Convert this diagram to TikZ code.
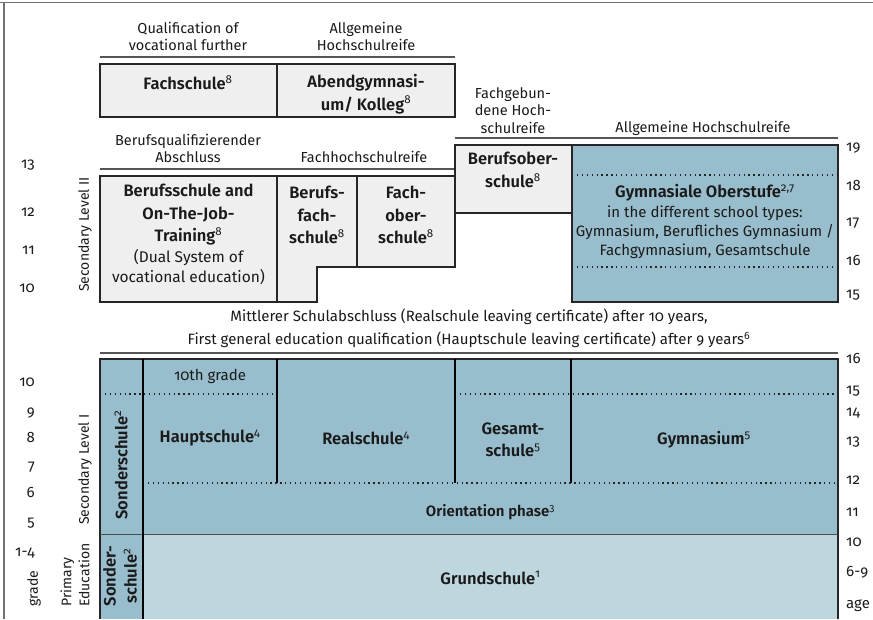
\documentclass[tikz,border=0pt]{standalone}
\usepackage{fontspec}
\setmainfont{Fira Sans}[Numbers=OldStyle, BoldFont={Fira Sans SemiBold}]
\definecolor{bluedark}{HTML}{98BDCC}
\definecolor{bluelight}{HTML}{BED6DE}
\definecolor{graybox}{HTML}{EFEFEF}
\definecolor{rulegray}{HTML}{555555}
\definecolor{txt}{HTML}{1A1A1A}
\newcommand\fnote[1]{\textsuperscript{\mdseries #1}}
\begin{document}
\begin{tikzpicture}[x=1pt,y=-1pt,
  every node/.style={inner sep=0pt, text=txt},
  lbl/.style={align=center, font=\fontsize{14.5}{17.5}\selectfont},
  lbox/.style={align=center, font=\fontsize{15}{19}\selectfont},
  bl/.style={align=center, font=\fontsize{16.5}{22.5}\selectfont\bfseries},
  bls/.style={align=center, font=\fontsize{15}{16}\selectfont\bfseries},
  num/.style={font=\fontsize{15}{16}\selectfont},
  side/.style={rotate=90, anchor=west, align=left, font=\fontsize{14}{18}\selectfont},
  frame/.style={draw=black!55, line width=1.6pt},
  rulel/.style={draw=rulegray, line width=1.3pt},
  boxl/.style={draw=black!85, line width=1.3pt},
  sep/.style={draw=black, line width=1.8pt},
  dots/.style={draw=black!85, line width=1.3pt, dash pattern=on 1.3pt off 3.6pt},
]
\useasboundingbox (0,0) rectangle (873,619);
% frame
\draw[frame] (0,2.5) -- (873,2.5);
\draw[frame] (4,2.5) -- (4,619);

% ---------- upper section ----------
\draw[rulel] (100,57) -- (455,57);
\filldraw[fill=graybox, boxl] (100,64) rectangle (277,117);
\filldraw[fill=graybox, boxl] (277,64) rectangle (455,117);

\draw[rulel] (100,169) -- (455,169);
\draw[rulel] (455,138) -- (838,138);

\filldraw[fill=graybox, boxl] (100,176) rectangle (277,302);
\filldraw[fill=graybox, boxl] (277,176) -- (357,176) -- (357,267) -- (317,267) -- (317,302) -- (277,302) -- cycle;
\filldraw[fill=graybox, boxl] (357,176) rectangle (455,267);
\filldraw[fill=graybox, boxl] (455,145) rectangle (572,213);
\filldraw[fill=bluedark, boxl] (572,145) rectangle (838,302);
\draw[dots] (572,175) -- (838,175);
\draw[dots] (572,267) -- (838,267);

\node[lbl] (qual) at (188,36.5) {Qualification of\\vocational further};
\node[lbl] (ahr1) at (366,36.5) {Allgemeine\\Hochschulreife};
\node[bl] (fachs) at (188,83) {Fachschule\fnote{8}};
\node[bl] (abend) at (366,94) {Abendgymnasi-\\um/ Kolleg\fnote{8}};
\node[lbl] (bqa) at (188,148.5) {Berufsqualifizierender\\Abschluss};
\node[lbl] (fhr) at (364,157) {Fachhochschulreife};
\node[lbl] (fgh) at (513,110.5) {Fachgebun-\\dene Hoch-\\schulreife};
\node[lbl] (ahr2) at (703,128) {Allgemeine Hochschulreife};
\node[bl] (bos) at (513,170) {Berufsober-\\schule\fnote{8}};
\node[bl] (gymo) at (705,193) {Gymnasiale Oberstufe\fnote{2,7}};
\node[lbox] (gymsub) at (705,232) {in the different school types:\\Gymnasium, Berufliches Gymnasium /\\Fachgymnasium, Gesamtschule};
\node[bl] (bs) at (188.5,215) {Berufsschule and\\On-The-Job-\\Training\fnote{8}};
\node[lbox, font=\fontsize{15.5}{20}\selectfont] (dual) at (188.5,267.5) {(Dual System of\\vocational education)};
\node[bl] (bfs) at (317,215) {Berufs-\\fach-\\schule\fnote{8}};
\node[bl] (fos) at (406,215) {Fach-\\ober-\\schule\fnote{8}};

% ---------- middle ----------
\node[lbl, font=\fontsize{15}{22.5}\selectfont] (msa) at (469,328.5) {Mittlerer Schulabschluss (Realschule leaving certificate) after 10 years,\\First general education qualification (Hauptschule leaving certificate) after 9 years\fnote{6}};
\draw[rulel] (100,353) -- (838,353);

% ---------- lower section ----------
\fill[bluedark] (100,359) rectangle (838,534);
\fill[bluelight] (143,534) rectangle (838,619);
\fill[bluedark] (100,534) rectangle (143,619);
\draw[boxl] (100,619) -- (100,359) -- (838,359) -- (838,619);
\draw[draw=black!70, line width=1pt] (100,534) -- (838,534);
\draw[dots] (100,394) -- (277,394);
\draw[dots] (455,394) -- (838,394);
\draw[dots] (143,483) -- (838,483);
\draw[sep] (143,359) -- (143,619);
\draw[sep] (277,359) -- (277,483);
\draw[sep] (455,359) -- (455,483);
\draw[sep] (571,359) -- (571,483);

\node[lbox] (tenth) at (210,376) {10th grade};
\node[bl] (haupt) at (210,438) {Hauptschule\fnote{4}};
\node[bl] (real) at (366,438) {Realschule\fnote{4}};
\node[bl] (gesamt) at (513,440) {Gesamt-\\schule\fnote{5}};
\node[bl] (gym) at (704,440) {Gymnasium\fnote{5}};
\node[bls] (orient) at (490.5,512) {Orientation phase\fnote{3}};
\node[bl] (grund) at (490.5,578) {Grundschule\fnote{1}};
\node[bl, rotate=90] (sonder1) at (121,465) {Sonderschule\fnote{2}};
\node[bl, rotate=90, font=\fontsize{16.5}{21}\selectfont\bfseries] (sonder2) at (120,576) {Sonder-\\schule\fnote{2}};

% ---------- side labels ----------
\node[side] (sec2) at (85,292) {Secondary Level II};
\node[side] (sec1) at (85,525) {Secondary Level I};
\node[side] (prim) at (75,607) {Primary\\Education};
\node[side] (gradel) at (34,607) {grade};

% grades
\node[num, anchor=east] (g13) at (35,165) {13};
\node[num, anchor=east] (g12) at (35,212) {12};
\node[num, anchor=east] (g11) at (35,250) {11};
\node[num, anchor=east] (g10a) at (35,288) {10};
\node[num, anchor=east] (g10b) at (35,382) {10};
\node[num, anchor=east] (g9) at (35,413) {9};
\node[num, anchor=east] (g8) at (35,437) {8};
\node[num, anchor=east] (g7) at (35,467) {7};
\node[num, anchor=east] (g6) at (35,492) {6};
\node[num, anchor=east] (g5) at (35,523) {5};
\node[num, anchor=east] (g14) at (35,553) {1-4};

% ages
\node[num, anchor=west] (a19) at (846,148) {19};
\node[num, anchor=west] (a18) at (846,185) {18};
\node[num, anchor=west] (a17) at (846,223) {17};
\node[num, anchor=west] (a16a) at (846,260) {16};
\node[num, anchor=west] (a15a) at (846,295) {15};
\node[num, anchor=west] (a16b) at (846,358) {16};
\node[num, anchor=west] (a15b) at (846,391) {15};
\node[num, anchor=west] (a14) at (846,413) {14};
\node[num, anchor=west] (a13) at (846,442) {13};
\node[num, anchor=west] (a12) at (846,480) {12};
\node[num, anchor=west] (a11) at (846,512) {11};
\node[num, anchor=west] (a10) at (846,542) {10};
\node[num, anchor=west] (a69) at (846,572) {6-9};
\node[num, anchor=west] (age) at (846,606) {age};
\end{tikzpicture}
\end{document}
